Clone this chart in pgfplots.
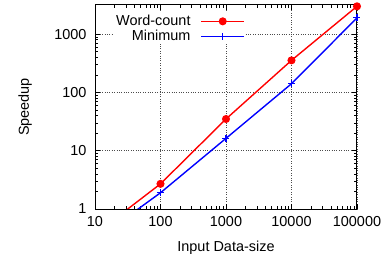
\documentclass[border=0pt]{standalone}
\usepackage{pgfplots}
\pgfplotsset{compat=1.18}
\usepackage{fontspec}
\setmainfont{Liberation Sans}
\begin{document}
\begin{tikzpicture}
\useasboundingbox (-95bp,-47bp) rectangle (297bp,209bp);
\begin{axis}[
  scale only axis,
  width=262bp, height=204bp,
  xmode=log, ymode=log,
  xmin=10, xmax=100000, ymin=1, ymax=3162,
  log ticks with fixed point,
  /pgf/number format/1000 sep={},
  /pgf/number format/assume math mode=true,
  xtick={10,100,1000,10000,100000},
  ytick={1,10,100,1000},
  tick align=inside,
  major tick length=5bp, minor tick length=3bp,
  axis line style={line width=1bp},
  every tick/.style={black, line width=0.6bp},
  grid=major,
  major grid style={dotted, black!70, line width=0.6bp},
  tick label style={font=\fontsize{14.5}{16}\selectfont},
  xticklabel style={yshift=-4bp},
  yticklabel style={xshift=-5bp},
  label style={font=\fontsize{14.5}{16}\selectfont},
  xlabel={Input Data-size},
  ylabel={Speedup},
  xlabel style={at={(axis description cs:0.5,-0.19)}, anchor=center},
  ylabel style={at={(axis description cs:-0.267,0.5)}, anchor=center},
  legend style={at={(axis description cs:0.573,0.96)}, anchor=north east,
    draw=none, fill=white, inner sep=0bp,
    font=\fontsize{14.5}{15}\selectfont, row sep=-1bp, column sep=8bp},
  legend cell align=right,
  legend plot pos=right,
  legend image code/.code={\draw[mark repeat=2,mark phase=2] plot coordinates {(0bp,0bp) (21.5bp,0bp) (43bp,0bp)};},
]
\addplot[red, line width=1.4bp, mark=*, mark size=3.3bp, mark options={solid, fill=red}]
  coordinates {(10,0.37) (100,2.7) (1000,35) (10000,355) (100000,3000)};
\addlegendentry{Word-count}
\addplot[blue, line width=1.4bp, mark=+, mark size=3.5bp, mark options={solid, line width=1.2bp}]
  coordinates {(10,0.29) (100,1.9) (1000,16.3) (10000,141) (100000,1900)};
\addlegendentry{Minimum}
\end{axis}
\end{tikzpicture}
\end{document}
